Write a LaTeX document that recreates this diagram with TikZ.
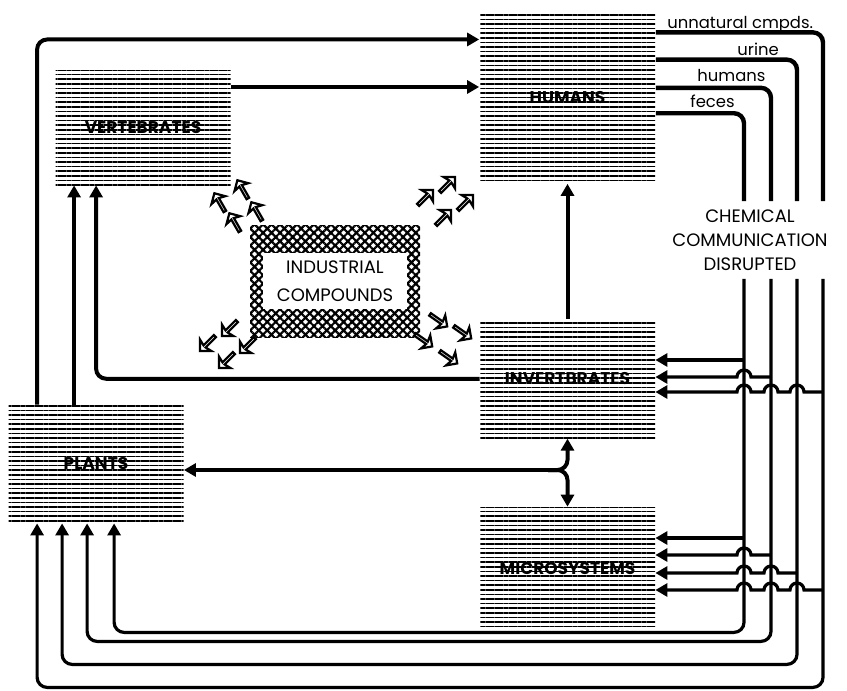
\documentclass[tikz,border=0pt]{standalone}
\usepackage{fontspec}
\setmainfont{Poppins}
\setsansfont{Poppins}
\usepackage{tikz}
\usetikzlibrary{arrows.meta, positioning, calc, patterns.meta, shapes.arrows}

\begin{document}
\begin{tikzpicture}[x=0.5pt, y=-0.5pt,
  box/.style={rectangle, inner sep=0pt, minimum width=87.5pt,
              pattern={Lines[angle=0,distance=2.3pt,line width=0.85pt]},
              font=\bfseries\fontsize{8.5}{9}\selectfont},
  cross/.style={rectangle, inner sep=0pt,
                pattern={Hatch[angle=45,distance=3pt,line width=1.1pt]}},
  ind/.style={rectangle, fill=white, minimum width=72pt, minimum height=28pt,
              align=center, font=\fontsize{9}{14}\selectfont},
  chemtext/.style={align=center, inner xsep=2pt, inner ysep=4pt,
                   font=\fontsize{9}{12}\selectfont},
  tag/.style={inner sep=0pt, font=\fontsize{8.2}{9}\selectfont},
  spill/.style={single arrow, draw, fill=white, line width=1.1pt, inner sep=0pt,
                minimum height=10.5pt, minimum width=8pt,
                single arrow head extend=2.4pt, single arrow head indent=0.8pt},
  flow/.style={line width=2pt, rounded corners=5pt},
  chem/.style={line width=1.6pt},
  chemtop/.style={line width=2.2pt, rounded corners=5pt},
  arrow/.style={-{Triangle[length=6pt,width=6.5pt]}},
]
  \useasboundingbox (0,0) rectangle (847,691);

  \node[box, minimum height=85.5pt] (humans) at (567.5,97.5) {HUMANS};
  \node[box, minimum height=59.5pt, below=67.5pt of humans.south, anchor=north] (invert) {INVERTBRATES};
  \node[box, minimum height=61pt, below=34pt of invert] (micro) {MICROSYSTEMS};
  \node[box, minimum height=57.5pt] (vert) at (143,127.5) {VERTEBRATES};
  \node[box, minimum height=59pt] (plants) at (96,464) {PLANTS};

  \node[cross, minimum width=85pt, minimum height=56pt] (indhatch) at (335,281) {};
  \node[ind] (ind) at (indhatch.center) {INDUSTRIAL\\COMPOUNDS};

  \foreach \p/\a [count=\i] in {(243,190)/120, (220,203)/120, (235,223)/120, (257,212)/120,
                                (447,185)/45, (425,198)/45, (465,203)/45, (443,218)/45,
                                (230,328)/225, (208,343)/225, (248,345)/225, (227,360)/225,
                                (438,320)/-35, (462,332)/-35, (423,340)/-35, (448,357)/-35}
    \node[spill, rotate=\a] (s\i) at \p {};

  \node[chemtext] (disr) at (750,240) {CHEMICAL\\COMMUNICATION\\DISRUPTED};

  \node[tag, anchor=base west] (tU) at (667,28) {unnatural cmpds.};
  \node[tag, anchor=base west] (tR) at (737,55) {urine};
  \node[tag, anchor=base west] (tH) at (697,81) {humans};
  \node[tag, anchor=base west] (tF) at (690,107) {feces};

  % main flows
  \coordinate (pTop) at ([xshift=14.5pt]plants.north west);
  \coordinate (hTop) at ($(humans.north west)!0.164!(humans.south west)$);
  \draw[flow, arrow] (pTop) |- (hTop);

  \coordinate (vOut) at ($(vert.north east)!0.15!(vert.south east)$);
  \draw[flow, arrow] (vOut) -- (vOut -| humans.west);

  \coordinate (pUp) at ([xshift=33pt]plants.north west);
  \draw[flow, arrow] (pUp) -- (pUp |- vert.south);
  \draw[flow, arrow] (invert.west) -| ([xshift=20.5pt]vert.south west);
  \draw[flow, arrow] (invert.north) -- (invert.north |- humans.south);

  \coordinate (fork) at (548,470);
  \draw[flow, arrow] (fork) -- (fork -| plants.east);
  \draw[flow, arrow] (fork) -| (invert.south);
  \draw[flow, arrow] (fork) -| (micro.north);

  % chemical lines from humans
  \coordinate (hU) at ($(humans.north east)!0.123!(humans.south east)$);
  \coordinate (hR) at ($(humans.north east)!0.281!(humans.south east)$);
  \coordinate (hH) at ($(humans.north east)!0.444!(humans.south east)$);
  \coordinate (hF) at ($(humans.north east)!0.591!(humans.south east)$);
  \draw[chemtop] (hU) -| ([xshift=36.5pt]disr.north);
  \draw[chemtop] (hR) -| ([xshift=23.5pt]disr.north);
  \draw[chemtop] (hH) -| ([xshift=10.5pt]disr.north);
  \draw[chemtop] (hF) -| ([xshift=-3pt]disr.north);

  \coordinate (pF) at ([xshift=53pt]plants.south west);
  \coordinate (pH) at ([xshift=39.5pt]plants.south west);
  \coordinate (pR) at ([xshift=27pt]plants.south west);
  \coordinate (pU) at ([xshift=14.5pt]plants.south west);
  \draw[chem, rounded corners=5pt, arrow] ([xshift=-3pt]disr.south) |- ($(pF)+(0,109)$) -- (pF);
  \draw[chem, rounded corners=5pt, arrow] ([xshift=10.5pt]disr.south) |- ($(pH)+(0,118)$) -- (pH);
  \draw[chem, rounded corners=5pt, arrow] ([xshift=23.5pt]disr.south) |- ($(pR)+(0,141)$) -- (pR);
  \draw[chem, rounded corners=5pt, arrow] ([xshift=36.5pt]disr.south) |- ($(pU)+(0,164)$) -- (pU);

  % branches with hops
  \coordinate (jF1) at (744,360);
  \coordinate (jH1) at (771,377);
  \coordinate (jU1) at (823,392);
  \draw[chem, arrow] (jF1) -- (jF1 -| invert.east);
  \draw[chem, arrow] (jH1) -- (751,377) arc[start angle=0,end angle=180,radius=3.5pt]
    -- (jH1 -| invert.east);
  \draw[chem, arrow] (jU1) -- (804,392) arc[start angle=0,end angle=180,radius=3.5pt]
    -- (778,392) arc[start angle=0,end angle=180,radius=3.5pt]
    -- (751,392) arc[start angle=0,end angle=180,radius=3.5pt] -- (jU1 -| invert.east);

  \coordinate (jF2) at (744,538);
  \coordinate (jH2) at (771,555);
  \coordinate (jR2) at (797,573);
  \coordinate (jU2) at (823,590);
  \draw[chem, arrow] (jF2) -- (jF2 -| micro.east);
  \draw[chem, arrow] (jH2) -- (751,555) arc[start angle=0,end angle=180,radius=3.5pt]
    -- (jH2 -| micro.east);
  \draw[chem, arrow] (jR2) -- (778,573) arc[start angle=0,end angle=180,radius=3.5pt]
    -- (751,573) arc[start angle=0,end angle=180,radius=3.5pt] -- (jR2 -| micro.east);
  \draw[chem, arrow] (jU2) -- (804,590) arc[start angle=0,end angle=180,radius=3.5pt]
    -- (778,590) arc[start angle=0,end angle=180,radius=3.5pt]
    -- (751,590) arc[start angle=0,end angle=180,radius=3.5pt] -- (jU2 -| micro.east);
\end{tikzpicture}
\end{document}
